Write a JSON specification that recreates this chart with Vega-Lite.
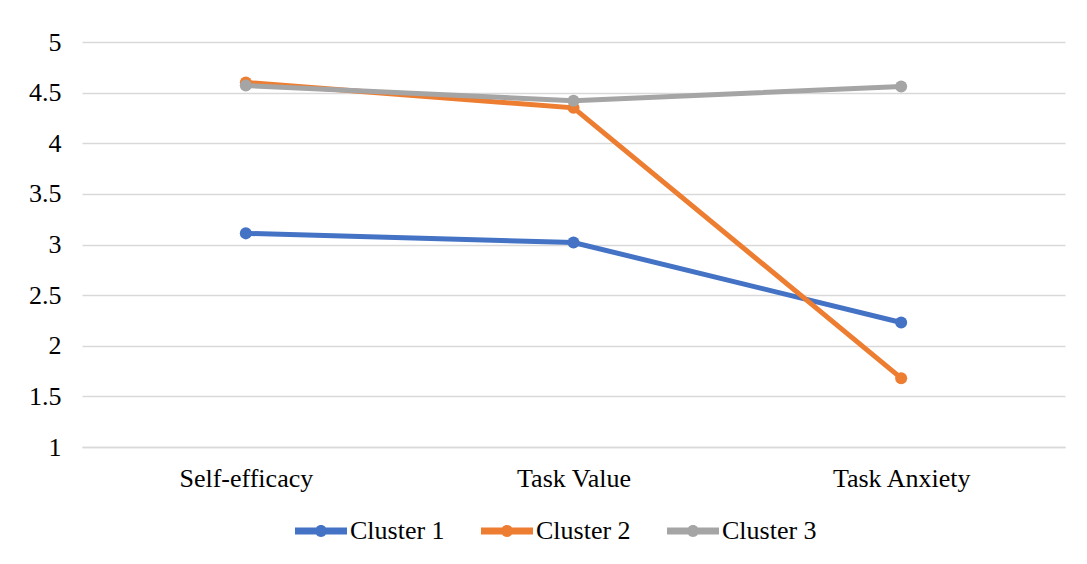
{
  "$schema": "https://vega.github.io/schema/vega-lite/v6.json",
  "autosize": {"type": "none"},
  "width": 983,
  "height": 405,
  "padding": {"left": 82, "top": 42, "right": 22, "bottom": 117},
  "background": "white",
  "config": {
    "view": {"stroke": null},
    "font": "Liberation Serif",
    "axis": {"labelFont": "Liberation Serif", "labelColor": "#000000", "labelFontSize": 26},
    "legend": {"labelFont": "Liberation Serif", "labelColor": "#000000", "labelFontSize": 26}
  },
  "data": {
    "values": [
      {"factor": "Self-efficacy", "cluster": "Cluster 1", "score": 3.11},
      {"factor": "Task Value", "cluster": "Cluster 1", "score": 3.02},
      {"factor": "Task Anxiety", "cluster": "Cluster 1", "score": 2.23},
      {"factor": "Self-efficacy", "cluster": "Cluster 2", "score": 4.6},
      {"factor": "Task Value", "cluster": "Cluster 2", "score": 4.35},
      {"factor": "Task Anxiety", "cluster": "Cluster 2", "score": 1.68},
      {"factor": "Self-efficacy", "cluster": "Cluster 3", "score": 4.57},
      {"factor": "Task Value", "cluster": "Cluster 3", "score": 4.42},
      {"factor": "Task Anxiety", "cluster": "Cluster 3", "score": 4.56}
    ]
  },
  "mark": {"type": "line", "strokeWidth": 5, "point": {"filled": true, "size": 145, "opacity": 1}},
  "encoding": {
    "x": {
      "field": "factor",
      "type": "nominal",
      "sort": ["Self-efficacy", "Task Value", "Task Anxiety"],
      "scale": {"type": "point", "padding": 0.5},
      "axis": {"title": null, "labelAngle": 0, "ticks": false, "domain": true, "domainColor": "#D9D9D9", "domainWidth": 1.5, "labelPadding": 18, "grid": false}
    },
    "y": {
      "field": "score",
      "type": "quantitative",
      "scale": {"domain": [1, 5], "nice": false, "zero": false},
      "axis": {"title": null, "values": [1, 1.5, 2, 2.5, 3, 3.5, 4, 4.5, 5], "format": "~g", "ticks": false, "domain": false, "grid": true, "gridColor": "#D9D9D9", "gridWidth": 1.5, "labelPadding": 21}
    },
    "color": {
      "field": "cluster",
      "type": "nominal",
      "scale": {"domain": ["Cluster 1", "Cluster 2", "Cluster 3"], "range": ["#4472C4", "#ED7D31", "#A5A5A5"]},
      "legend": {
        "title": null,
        "orient": "none",
        "direction": "horizontal",
        "legendX": 213,
        "legendY": 463,
        "symbolType": "M-1,-0.13H1V0.13H-1Z M-0.23,0A0.23,0.23 0 1,1 0.23,0A0.23,0.23 0 1,1 -0.23,0Z",
        "symbolSize": 2704,
        "symbolStrokeWidth": 0,
        "columnPadding": 36,
        "labelOffset": 3,
        "encode": {"symbols": {"update": {"fill": {"scale": "color", "field": "value"}, "stroke": {"value": "transparent"}, "opacity": {"value": 1}}}}
      }
    }
  }
}
